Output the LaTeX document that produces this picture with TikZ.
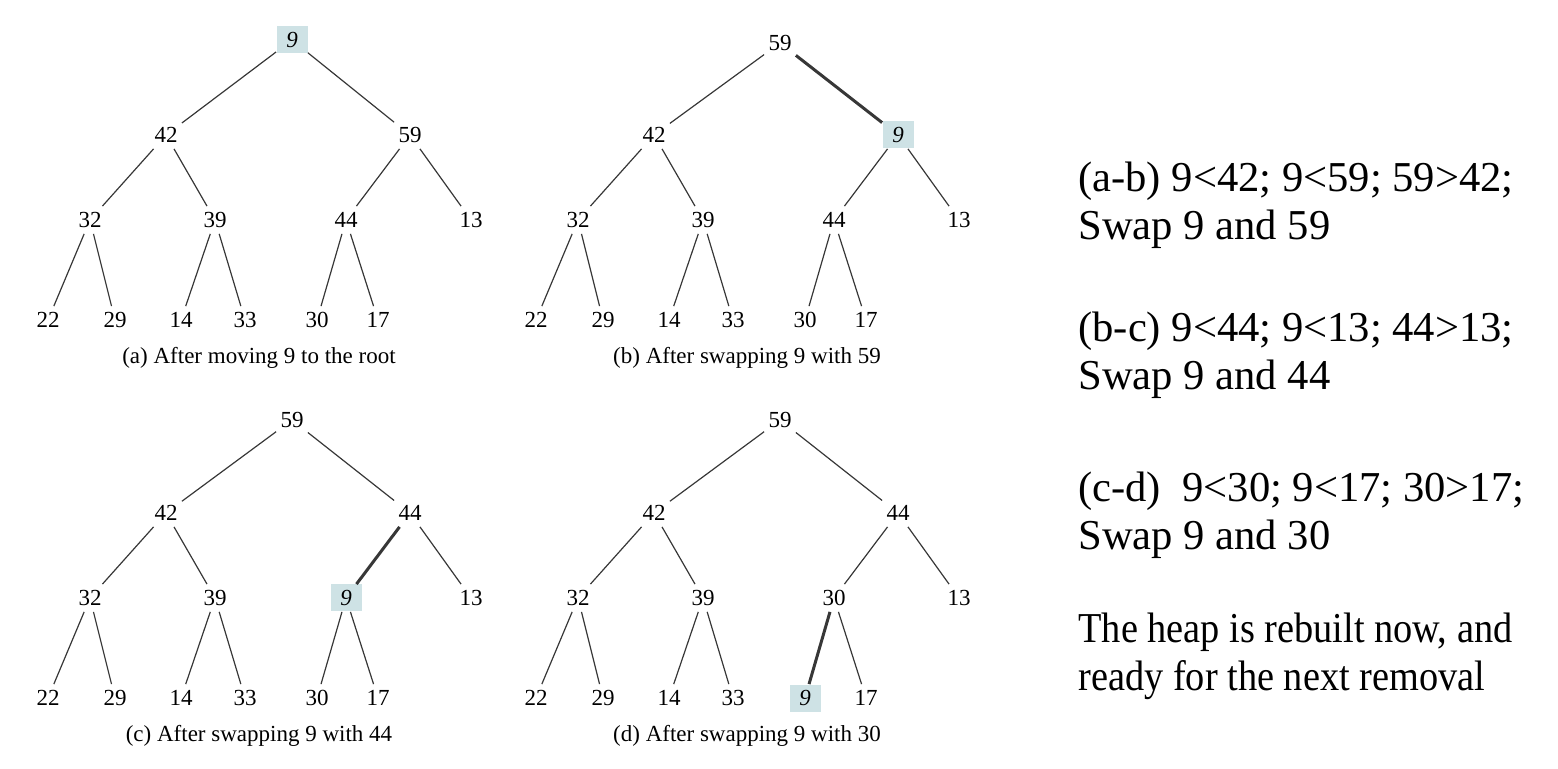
\documentclass[tikz,border=0pt]{standalone}
\usepackage{fontspec}
\setmainfont{Liberation Serif}
\newfontfamily\narrowserif[FakeStretch=0.9]{Liberation Serif}
\usepackage{xcolor}
\usepackage{tikz}

\definecolor{hlblue}{RGB}{206,226,229}
\definecolor{edgegray}{RGB}{55,55,55}

\tikzset{
  key/.style={inner sep=0pt, minimum width=15.5pt, minimum height=13.5pt, font=\fontsize{11.5}{13}\selectfont},
  moved/.style={key, fill=hlblue, font=\fontsize{11.5}{13}\selectfont\itshape},
  link/.style={draw=edgegray, line width=0.6pt},
  swaplink/.style={draw=edgegray, line width=1.5pt},
  caption/.style={font=\fontsize{11.5}{13}\selectfont},
  note/.style={anchor=base west, align=left, inner sep=0pt, font=\fontsize{21.3}{24}\selectfont}
}

\begin{document}
\begin{tikzpicture}[x=0.5pt, y=-0.5pt]
    \useasboundingbox (0,0) rectangle (1558,769);

    % (a) after moving 9 to the root
    \node[moved] (a1) at (292,40) {9};
    \node[key] (a2) at (166,135) {42};
    \node[key] (a3) at (410,135) {59};
    \node[key] (a4) at (90,220) {32};
    \node[key] (a5) at (215,220) {39};
    \node[key] (a6) at (346,220) {44};
    \node[key] (a7) at (471,220) {13};
    \node[key] (a8) at (48,320) {22};
    \node[key] (a9) at (115,320) {29};
    \node[key] (a10) at (181,320) {14};
    \node[key] (a11) at (245,320) {33};
    \node[key] (a12) at (317,320) {30};
    \node[key] (a13) at (378,320) {17};
    \node[caption] (acap) at (259,358) {(a) After moving 9 to the root};
    \draw[link] (a1) -- (a2) (a1) -- (a3) (a2) -- (a4) (a2) -- (a5)
        (a3) -- (a6) (a3) -- (a7) (a4) -- (a8) (a4) -- (a9)
        (a5) -- (a10) (a5) -- (a11) (a6) -- (a12) (a6) -- (a13);

    % (b) after swapping 9 with 59
    \begin{scope}[shift={(488,0)}]
    \node[key] (b1) at (292,43) {59};
    \node[key] (b2) at (166,135) {42};
    \node[moved] (b3) at (410,135) {9};
    \node[key] (b4) at (90,220) {32};
    \node[key] (b5) at (215,220) {39};
    \node[key] (b6) at (346,220) {44};
    \node[key] (b7) at (471,220) {13};
    \node[key] (b8) at (48,320) {22};
    \node[key] (b9) at (115,320) {29};
    \node[key] (b10) at (181,320) {14};
    \node[key] (b11) at (245,320) {33};
    \node[key] (b12) at (317,320) {30};
    \node[key] (b13) at (378,320) {17};
    \node[caption] (bcap) at (259,358) {(b) After swapping 9 with 59};
    \draw[link] (b1) -- (b2) (b2) -- (b4) (b2) -- (b5)
        (b3) -- (b6) (b3) -- (b7) (b4) -- (b8) (b4) -- (b9)
        (b5) -- (b10) (b5) -- (b11) (b6) -- (b12) (b6) -- (b13);
    \draw[swaplink] (b1) -- (b3);
    \end{scope}

    % (c) after swapping 9 with 44
    \begin{scope}[shift={(0,378)}]
    \node[key] (c1) at (292,42) {59};
    \node[key] (c2) at (166,135) {42};
    \node[key] (c3) at (410,135) {44};
    \node[key] (c4) at (90,220) {32};
    \node[key] (c5) at (215,220) {39};
    \node[moved] (c6) at (346,220) {9};
    \node[key] (c7) at (471,220) {13};
    \node[key] (c8) at (48,320) {22};
    \node[key] (c9) at (115,320) {29};
    \node[key] (c10) at (181,320) {14};
    \node[key] (c11) at (245,320) {33};
    \node[key] (c12) at (317,320) {30};
    \node[key] (c13) at (378,320) {17};
    \node[caption] (ccap) at (259,358) {(c) After swapping 9 with 44};
    \draw[link] (c1) -- (c2) (c1) -- (c3) (c2) -- (c4) (c2) -- (c5)
        (c3) -- (c7) (c4) -- (c8) (c4) -- (c9)
        (c5) -- (c10) (c5) -- (c11) (c6) -- (c12) (c6) -- (c13);
    \draw[swaplink] (c3) -- (c6);
    \end{scope}

    % (d) after swapping 9 with 30
    \begin{scope}[shift={(488,378)}]
    \node[key] (d1) at (292,42) {59};
    \node[key] (d2) at (166,135) {42};
    \node[key] (d3) at (410,135) {44};
    \node[key] (d4) at (90,220) {32};
    \node[key] (d5) at (215,220) {39};
    \node[key] (d6) at (346,220) {30};
    \node[key] (d7) at (471,220) {13};
    \node[key] (d8) at (48,320) {22};
    \node[key] (d9) at (115,320) {29};
    \node[key] (d10) at (181,320) {14};
    \node[key] (d11) at (245,320) {33};
    \node[moved] (d12) at (317,320) {9};
    \node[key] (d13) at (378,320) {17};
    \node[caption] (dcap) at (259,358) {(d) After swapping 9 with 30};
    \draw[link] (d1) -- (d2) (d1) -- (d3) (d2) -- (d4) (d2) -- (d5)
        (d3) -- (d6) (d3) -- (d7) (d4) -- (d8) (d4) -- (d9)
        (d5) -- (d10) (d5) -- (d11) (d6) -- (d13);
    \draw[swaplink] (d6) -- (d12);
    \end{scope}

    % Notes (anchored at the baseline of their last line)
    \node[note] (ab) at (1078,240) {(a-b) 9<42; 9<59; 59>42;\\Swap 9 and 59};
    \node[note] (bc) at (1078,390) {(b-c) 9<44; 9<13; 44>13;\\Swap 9 and 44};
    \node[note] (cd) at (1078,550) {(c-d)\ \ 9<30; 9<17; 30>17;\\Swap 9 and 30};
    \node[note, font=\fontsize{21.3}{24}\selectfont\narrowserif] (done) at (1078,690) {The heap is rebuilt now, and\\ready for the next removal};
\end{tikzpicture}
\end{document}
